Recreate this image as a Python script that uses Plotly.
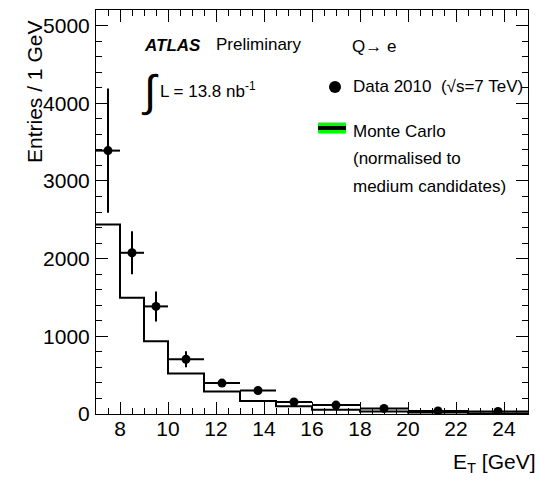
import plotly.graph_objects as go

# ---- data ----
bin_edges = [7, 8, 9, 10, 11.5, 13, 14.5, 16, 18, 20, 22.5, 25]
data_vals = [3390, 2075, 1385, 705, 398, 302, 155, 115, 72, 40, 33]
data_errs = [800, 277, 193, 103, 40, 30, 20, 15, 10, 6, 5]
mc_vals = [2440, 1495, 937, 521, 290, 168, 100, 54, 32, 20, 8]

x_ticks = [8, 10, 12, 14, 16, 18, 20, 22, 24]
y_ticks = [0, 1000, 2000, 3000, 4000, 5000]

centers = [(a + b) / 2 for a, b in zip(bin_edges[:-1], bin_edges[1:])]
halfw = [(b - a) / 2 for a, b in zip(bin_edges[:-1], bin_edges[1:])]

FONT = "Liberation Sans"
W, H = 539, 481
L, R, T, B = 96, 11, 10, 67
pw, ph = W - L - R, H - T - B


def px(xp):
    return (xp - L) / pw


def py(yp):
    return (H - B - yp) / ph


fig = go.Figure()

# Monte Carlo step histogram
fig.add_trace(go.Scatter(
    x=bin_edges, y=mc_vals + [mc_vals[-1]],
    mode="lines", line=dict(shape="hv", color="black", width=2),
    showlegend=False, hoverinfo="skip"))

# Data points
fig.add_trace(go.Scatter(
    x=centers, y=data_vals, mode="markers",
    marker=dict(color="black", size=9, symbol="circle"),
    error_x=dict(type="data", array=halfw, color="black", thickness=2, width=0),
    error_y=dict(type="data", array=data_errs, color="black", thickness=2, width=0),
    showlegend=False))

axis_common = dict(
    ticks="inside", mirror="allticks", showline=True, linecolor="black",
    linewidth=1, tickcolor="black", tickwidth=1, ticklen=12,
    showgrid=False, zeroline=False,
    tickfont=dict(family=FONT, size=21, color="black"),
)

fig.update_xaxes(range=[7, 25], tickvals=x_ticks,
                 minor=dict(dtick=0.5, ticks="inside", ticklen=6, tickcolor="black", showgrid=False),
                 ticklabelstandoff=-4, **axis_common)
fig.update_yaxes(range=[0, 5200], tickvals=y_ticks, tickformat="d",
                 minor=dict(dtick=200, ticks="inside", ticklen=6, tickcolor="black", showgrid=False),
                 ticklabelstandoff=1, **axis_common)

ann = []


def add_text(text, xpix, ypix, size=17, xanchor="left", **kw):
    ann.append(dict(text=text, x=px(xpix), y=py(ypix), xref="paper", yref="paper",
                    xanchor=xanchor, yanchor="middle", showarrow=False,
                    font=dict(family=FONT, size=size, color="black"), **kw))


add_text("<b><i>ATLAS</i></b>", 142, 46, size=17)
add_text("Preliminary", 214, 45, size=17)
add_text("∫", 150, 91, size=44, xanchor="center")
add_text("L = 13.8 nb<sup>-1</sup>", 158, 90, size=17)
add_text("Q→ e", 350, 47, size=17)
add_text("Data 2010  (√s=7 TeV)", 351, 87, size=17)
add_text("Monte Carlo", 351, 131, size=17)
add_text("(normalised to", 351, 158, size=17)
add_text("medium candidates)", 351, 187, size=17)

# axis titles
add_text("E<sub>T</sub> [GeV]", 538, 463, size=21, xanchor="right")
add_text("Entries / 1 GeV", 35, 92, size=21, xanchor="center", textangle=-90)

shapes = [
    # legend marker for data
    dict(type="circle", xref="paper", yref="paper", xsizemode="pixel", ysizemode="pixel",
         xanchor=px(335), yanchor=py(87), x0=-6, x1=6, y0=-6, y1=6,
         fillcolor="black", line=dict(color="black", width=0)),
    # legend box for MC (green band with black line)
    dict(type="rect", xref="paper", yref="paper",
         x0=px(318), x1=px(346), y0=py(133.5), y1=py(122.5),
         fillcolor="#00ff00", line=dict(width=0)),
    dict(type="line", xref="paper", yref="paper",
         x0=px(318), x1=px(346), y0=py(128), y1=py(128),
         line=dict(color="black", width=4)),
]

fig.update_layout(
    width=W, height=H,
    margin=dict(l=L, r=R, t=T, b=B),
    paper_bgcolor="white", plot_bgcolor="white",
    annotations=ann, shapes=shapes,
    showlegend=False,
)

fig.write_html("out.html")
